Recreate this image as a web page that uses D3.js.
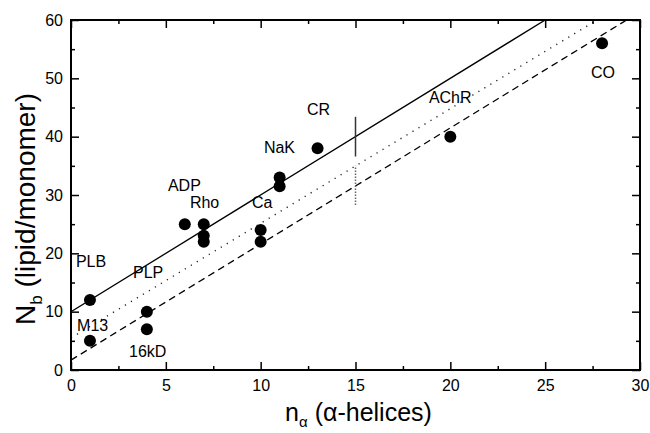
<!DOCTYPE html>
<html>
<head>
<meta charset="utf-8">
<script src="https://cdn.jsdelivr.net/npm/d3@7/dist/d3.min.js"></script>
<style>
  html, body { margin: 0; padding: 0; background: #fff; }
  svg { display: block; }
  text { font-family: "Liberation Sans", Arial, Helvetica, sans-serif; fill: #000; }
</style>
</head>
<body>
<svg id="chart" width="650" height="433"></svg>
<script>
// ---- data ----
const pointX = [1, 1, 4, 4, 6, 7, 7, 7, 10, 10, 11, 11, 13, 20, 28];
const pointY = [12, 5, 10, 7, 25, 25, 23, 22, 24, 22, 33, 31.5, 38, 40, 56];

const labelNames = ["PLB", "M13", "PLP", "16kD", "ADP", "Rho", "Ca", "NaK", "CR", "AChR", "CO"];
const labelX = [0.26, 0.32, 3.27, 3.06, 5.11, 6.27, 9.54, 10.17, 12.44, 18.87, 27.41];
const labelY = [17.66, 6.69, 15.77, 2.23, 30.69, 27.77, 27.77, 37.2, 43.7, 45.77, 50.06];

// fitted lines: intercept + slope * n
const lineNames = ["solid", "dotted", "dashed"];
const lineIntercepts = [10, 5.5, 1.7];
const lineSlopes = [2, 1.965, 1.99];

// vertical bars at n = 15
const barX = [15, 15];
const barLow = [36.6, 28.3];
const barHigh = [43.4, 35];

const xTicks = [0, 5, 10, 15, 20, 25, 30];
const xMinor = [2.5, 7.5, 12.5, 17.5, 22.5, 27.5];
const yTicks = [0, 10, 20, 30, 40, 50, 60];
const yMinor = [5, 15, 25, 35, 45, 55];

// ---- layout ----
const L = 71, R = 640, T = 20, B = 370;
const svg = d3.select("#chart");
const x = d3.scaleLinear().domain([0, 30]).range([L, R]);
const y = d3.scaleLinear().domain([0, 60]).range([B, T]);

svg.append("defs").append("clipPath").attr("id", "clip")
  .append("rect").attr("x", L).attr("y", T).attr("width", R - L).attr("height", B - T);

// lines
const lineStyles = {
  solid: { dash: null, w: 1.3, c: "#000" },
  dotted: { dash: "1.2,5.8", w: 1.4, c: "#222" },
  dashed: { dash: "7,4.5", w: 1.3, c: "#000" }
};
const gLines = svg.append("g").attr("clip-path", "url(#clip)");
lineNames.forEach((name, i) => {
  const a = lineIntercepts[i], b = lineSlopes[i];
  const xEnd = Math.min(30, (60 - a) / b);
  const pts = [[0, a], [xEnd, a + b * xEnd]];
  const st = lineStyles[name];
  gLines.append("path")
    .attr("d", d3.line().x(d => x(d[0])).y(d => y(d[1]))(pts))
    .attr("fill", "none").attr("stroke", st.c)
    .attr("stroke-width", st.w)
    .attr("stroke-dasharray", st.dash);
});

// vertical bars
svg.append("line")
  .attr("x1", x(barX[0])).attr("x2", x(barX[0]))
  .attr("y1", y(barLow[0])).attr("y2", y(barHigh[0]))
  .attr("stroke", "#333").attr("stroke-width", 1.5);
svg.append("line")
  .attr("x1", x(barX[1])).attr("x2", x(barX[1]))
  .attr("y1", y(barLow[1])).attr("y2", y(barHigh[1]))
  .attr("stroke", "#666").attr("stroke-width", 1.5)
  .attr("stroke-dasharray", "1.5,1.5");

// points
svg.append("g").selectAll("circle")
  .data(pointX.map((v, i) => [v, pointY[i]]))
  .join("circle")
  .attr("cx", d => x(d[0])).attr("cy", d => y(d[1]))
  .attr("r", 6).attr("fill", "#000");

// labels
svg.append("g").selectAll("text")
  .data(labelNames.map((n, i) => ({ n, x: labelX[i], y: labelY[i] })))
  .join("text")
  .attr("x", d => x(d.x)).attr("y", d => y(d.y))
  .attr("font-size", 16)
  .text(d => d.n);

// axes
function styleAxis(g) {
  g.select(".domain").remove();
  g.selectAll(".tick line").attr("stroke", "#000").attr("stroke-width", 1.5);
  g.selectAll(".tick text").attr("font-size", 16)
    .attr("font-family", '"Liberation Sans", Arial, sans-serif');
}
// bottom
svg.append("g").attr("transform", `translate(0,${B})`)
  .call(d3.axisBottom(x).tickValues(xTicks).tickSize(-8).tickPadding(10).tickFormat(d3.format("d")))
  .call(styleAxis);
svg.append("g").attr("transform", `translate(0,${B})`)
  .call(d3.axisBottom(x).tickValues(xMinor).tickSize(-4).tickFormat(""))
  .call(styleAxis);
// top
svg.append("g").attr("transform", `translate(0,${T})`)
  .call(d3.axisTop(x).tickValues(xTicks).tickSize(-8).tickFormat(""))
  .call(styleAxis);
svg.append("g").attr("transform", `translate(0,${T})`)
  .call(d3.axisTop(x).tickValues(xMinor).tickSize(-4).tickFormat(""))
  .call(styleAxis);
// left
svg.append("g").attr("transform", `translate(${L},0)`)
  .call(d3.axisLeft(y).tickValues(yTicks).tickSize(-8).tickPadding(8).tickFormat(d3.format("d")))
  .call(styleAxis);
svg.append("g").attr("transform", `translate(${L},0)`)
  .call(d3.axisLeft(y).tickValues(yMinor).tickSize(-4).tickFormat(""))
  .call(styleAxis);
// right
svg.append("g").attr("transform", `translate(${R},0)`)
  .call(d3.axisRight(y).tickValues(yTicks).tickSize(-8).tickFormat(""))
  .call(styleAxis);
svg.append("g").attr("transform", `translate(${R},0)`)
  .call(d3.axisRight(y).tickValues(yMinor).tickSize(-4).tickFormat(""))
  .call(styleAxis);

// frame
svg.append("rect").attr("x", L).attr("y", T).attr("width", R - L).attr("height", B - T)
  .attr("fill", "none").attr("stroke", "#000").attr("stroke-width", 2);

// axis titles
const xt = svg.append("text").attr("x", (L + R) / 2 + 3).attr("y", 421)
  .attr("text-anchor", "middle").attr("font-size", 25);
xt.append("tspan").text("n");
xt.append("tspan").attr("font-size", 15).attr("dy", 6).text("α");
xt.append("tspan").attr("dy", -6).text(" (α-helices)");

const yt = svg.append("text")
  .attr("transform", `translate(35,${209}) rotate(-90)`)
  .attr("text-anchor", "middle").attr("font-size", 28);
yt.append("tspan").text("N");
yt.append("tspan").attr("font-size", 17).attr("dy", 7).text("b");
yt.append("tspan").attr("dy", -7).text(" (lipid/monomer)");
</script>
</body>
</html>
